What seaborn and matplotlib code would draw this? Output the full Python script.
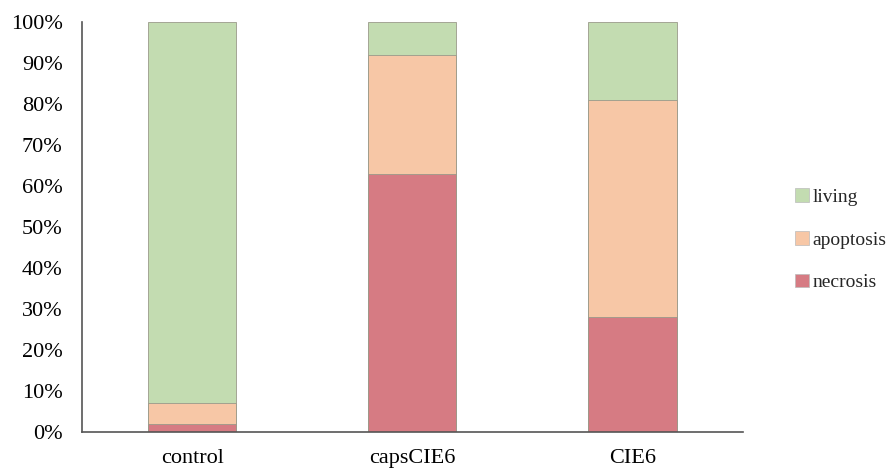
import matplotlib
matplotlib.use('Agg')
import matplotlib.pyplot as plt
import seaborn as sns
import pandas as pd
import numpy as np
from matplotlib.patches import Patch

sns.set_theme(style="white")
plt.rcParams['font.family'] = ['Liberation Serif', 'DejaVu Serif']

# 数据（百分比）
groups = ['control', 'capsCIE6', 'CIE6']
necrosis = [2, 63, 28]
apoptosis = [5, 29, 53]
living = [93, 8, 19]

colors = {'living': '#c3dcb1', 'apoptosis': '#f7c7a6', 'necrosis': '#d67b83'}

df = pd.DataFrame({'group': groups, 'necrosis': necrosis,
                   'apoptosis': apoptosis, 'living': living})
df['apop_top'] = df['necrosis'] + df['apoptosis']
df['total'] = df['apop_top'] + df['living']

fig = plt.figure(figsize=(8.94, 4.70), dpi=100)
ax = fig.add_axes([0.0917, 0.081, 0.739, 0.872])

# 堆叠：从上往下画累计值
for col, key in [('total', 'living'), ('apop_top', 'apoptosis'), ('necrosis', 'necrosis')]:
    sns.barplot(data=df, x='group', y=col, color=colors[key], width=0.4,
                edgecolor='#9a9a8a', linewidth=0.6, saturation=1, ax=ax)

ax.set_ylim(0, 100)
ax.set_xlim(-0.5, 2.5)
ax.set_yticks(np.arange(0, 101, 10))
ax.set_yticklabels([f'{v}%' for v in range(0, 101, 10)])
ax.set_xlabel('')
ax.set_ylabel('')
ax.tick_params(axis='both', labelsize=16, colors='black', length=0)
ax.tick_params(axis='x', pad=12)
ax.tick_params(axis='y', pad=14)
for s in ['top', 'right']:
    ax.spines[s].set_visible(False)
for s in ['left', 'bottom']:
    ax.spines[s].set_color('#555555')
    ax.spines[s].set_linewidth(1.2)

handles = [Patch(facecolor=colors[k], edgecolor='#bbbbbb', linewidth=0.5, label=k)
           for k in ['living', 'apoptosis', 'necrosis']]
fig.legend(handles=handles, loc='center left', bbox_to_anchor=(0.870, 0.49),
           frameon=False, fontsize=14, handlelength=0.7, handleheight=0.7,
           handletextpad=0.2, labelspacing=1.3)

fig.savefig('out.png', dpi=100)
